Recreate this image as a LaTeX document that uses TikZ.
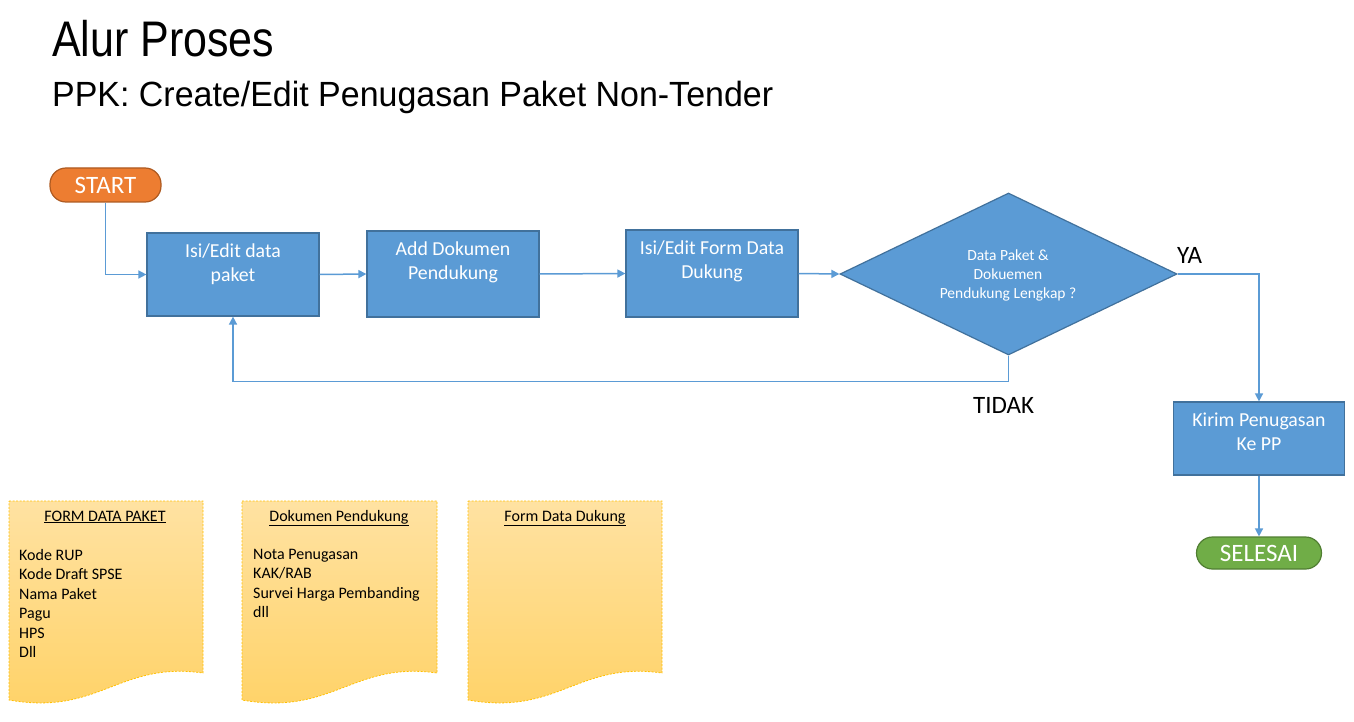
\documentclass[tikz,border=0pt]{standalone}
\usepackage{fontspec}
\setmainfont{Carlito}
\newfontfamily\titlefont[FakeStretch=0.86]{Liberation Sans}
\newfontfamily\subtitlefont[FakeStretch=0.97]{Liberation Sans}
\usetikzlibrary{arrows.meta,shapes.geometric}
\definecolor{boxblue}{HTML}{5B9BD5}
\definecolor{boxedge}{HTML}{41719C}
\definecolor{lineblue}{HTML}{5B9BD5}
\definecolor{startorange}{HTML}{ED7D31}
\definecolor{startedge}{HTML}{AE5A21}
\definecolor{endgreen}{HTML}{70AD47}
\definecolor{endedge}{HTML}{507E32}
\definecolor{doctop}{RGB}{255,226,162}
\definecolor{docbot}{RGB}{255,210,102}
\definecolor{docedge}{HTML}{FFC000}
\tikzset{
  procbox/.style={draw=boxedge, fill=boxblue, line width=1.2pt, inner sep=0pt},
  boxtext/.style={anchor=north, inner sep=0pt, align=center, text=white,
    font=\fontsize{19.8}{24}\selectfont},
  dectext/.style={anchor=north, inner sep=0pt, align=center, text=white,
    font=\fontsize{15.5}{18.8}\selectfont},
  terminal/.style={line width=1.2pt, inner sep=0pt, rounded corners=16pt,
    text=white, font=\fontsize{25}{30}\selectfont},
  conn/.style={draw=lineblue, line width=1.5pt, -{Triangle[length=8pt,width=8pt]}},
  lbl/.style={anchor=base west, inner sep=0pt, font=\fontsize{25}{30}\selectfont},
  docshape/.style={top color=doctop, bottom color=docbot, draw=docedge,
    line width=0.8pt, dash pattern=on 2pt off 1.5pt},
  dochead/.style={anchor=base, inner sep=0pt, font=\fontsize{16}{19.5}\selectfont},
  doclist/.style={anchor=north west, inner sep=0pt, align=left,
    font=\fontsize{16}{19.5}\selectfont},
}
\begin{document}
\begin{tikzpicture}[x=1pt,y=-1pt]
\useasboundingbox[fill=white] (0,0) rectangle (1354,722);

% titles
\node[anchor=base west, inner sep=0pt, font=\titlefont\fontsize{50}{60}\selectfont] (title) at (52,57) {Alur Proses};
\node[anchor=base west, inner sep=0pt, font=\subtitlefont\fontsize{35}{42}\selectfont] (subtitle) at (52,107) {PPK: Create/Edit Penugasan Paket Non-Tender};

% terminals
\node[terminal, draw=startedge, fill=startorange, minimum width=111pt, minimum height=34pt] (start) at (105.5,185) {START};
\node[terminal, draw=endedge, fill=endgreen, minimum width=125pt, minimum height=32pt] (selesai) at (1259,553) {SELESAI};

% process boxes
\node[procbox, minimum width=172pt, minimum height=83pt] (b1) at (233,274.5) {};
\node[boxtext] (t1) at (233,243.5) {Isi/Edit data\\paket};
\node[procbox, minimum width=172pt, minimum height=86pt] (b2) at (453,274) {};
\node[boxtext] (t2) at (453,242) {Add Dokumen\\Pendukung};
\node[procbox, minimum width=172pt, minimum height=87pt] (b3) at (712,273.5) {};
\node[boxtext] (t3) at (712,240.5) {Isi/Edit Form Data\\Dukung};
\node[procbox, minimum width=171pt, minimum height=73pt] (b4) at (1259,438.5) {};
\node[boxtext] (t4) at (1259,412.5) {Kirim Penugasan\\Ke PP};

% decision
\node[diamond, draw=boxedge, fill=boxblue, line width=1.2pt, inner sep=0pt,
  minimum width=337pt, minimum height=162pt] (dec) at (1008.5,274) {};
\node[dectext] (dt) at (1008,249.5) {Data Paket \&\\Dokuemen\\Pendukung Lengkap ?};

% connectors
\draw[conn] (start.south) |- (b1.west);
\draw[conn] (b1.east) -- (b2.west);
\draw[conn] (b2.east) -- (b3.west);
\draw[conn] (b3.east) -- (dec.west);
\draw[conn] (dec.south) -- ++(0,26) -| (b1.south);
\draw[conn] (dec.east) -| (b4.north);
\draw[conn] (b4.south) -- (selesai.north);

% branch labels
\node[lbl] (ya) at (1177,263) {YA};
\node[lbl] (tidak) at (973,413) {TIDAK};

% documents
\path[docshape] (9,501) -- (203,501) -- (203,673) .. controls (119,661) and (99,716) .. (9,700) -- cycle;
\path[docshape] (242,501) -- (437,501) -- (437,673) .. controls (353,661) and (333,716) .. (242,700) -- cycle;
\path[docshape] (468,501) -- (662,501) -- (662,673) .. controls (578,661) and (558,716) .. (468,700) -- cycle;

\node[dochead] (h1) at (105,521) {\underline{FORM DATA PAKET}};
\node[doclist] (l1) at (19,549) {Kode RUP\\Kode Draft SPSE\\Nama Paket\\Pagu\\HPS\\Dll};
\node[dochead] (h2) at (339,521) {\underline{Dokumen Pendukung}};
\node[doclist] (l2) at (253,549) {Nota Penugasan\\KAK/RAB\\Survei Harga Pembanding\\dll};
\node[dochead] (h3) at (565,521) {\underline{Form Data Dukung}};
\end{tikzpicture}
\end{document}
